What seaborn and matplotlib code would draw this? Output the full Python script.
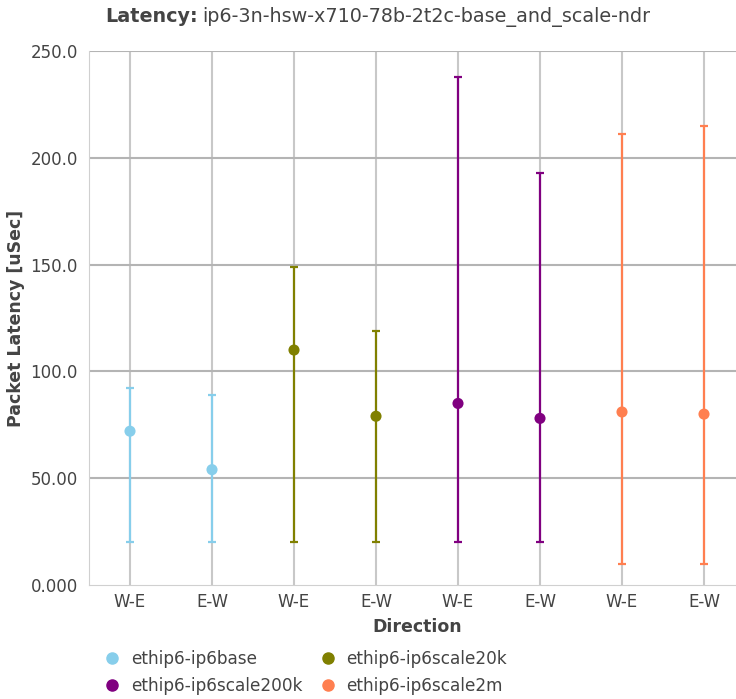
import pandas as pd
import numpy as np
import matplotlib
matplotlib.use("Agg")
import matplotlib.pyplot as plt
import seaborn as sns

# data
tests = ["ethip6-ip6base", "ethip6-ip6base",
         "ethip6-ip6scale20k", "ethip6-ip6scale20k",
         "ethip6-ip6scale200k", "ethip6-ip6scale200k",
         "ethip6-ip6scale2m", "ethip6-ip6scale2m"]
directions = ["W-E", "E-W", "W-E", "E-W", "W-E", "E-W", "W-E", "E-W"]
lat_avg = [72, 54, 110, 79, 85, 78, 81, 80]
lat_max = [92, 89, 149, 119, 238, 193, 211, 215]
lat_min = [20, 20, 20, 20, 20, 20, 10, 10]

series = ["ethip6-ip6base", "ethip6-ip6scale20k", "ethip6-ip6scale200k", "ethip6-ip6scale2m"]
colors = ["#87ceeb", "#808000", "#800080", "#ff7f50"]
palette = dict(zip(series, colors))

df = pd.DataFrame({
    "test": tests,
    "direction": directions,
    "avg": lat_avg,
    "max": lat_max,
    "min": lat_min,
})
df["pos"] = np.arange(len(df))

sns.set_style("white")
plt.rcParams["font.family"] = ["DejaVu Sans"]

fig = plt.figure(figsize=(7.36, 6.99), dpi=100)
ax = fig.add_axes([89 / 736, 114 / 699, 656 / 736, 534 / 699])

# error bars
for _, r in df.iterrows():
    ax.errorbar(r["pos"], r["avg"],
                yerr=[[r["avg"] - r["min"]], [r["max"] - r["avg"]]],
                fmt="none", ecolor=palette[r["test"]], elinewidth=1.6,
                capsize=3, capthick=1.6, zorder=3)

sns.scatterplot(data=df, x="pos", y="avg", hue="test", hue_order=series,
                palette=palette, s=64, edgecolor="none", ax=ax, zorder=4,
                legend=False)

ax.set_xlim(-0.5, 7.5)
ax.set_ylim(0, 250)
ax.set_xticks(df["pos"])
ax.set_xticklabels(df["direction"])
ax.set_yticks([0, 50, 100, 150, 200, 250])
ax.set_yticklabels(["0.000", "50.00", "100.0", "150.0", "200.0", "250.0"])
ax.tick_params(axis="both", labelsize=12, colors="#444444", length=5, width=1)
ax.tick_params(axis="x", length=0, pad=6)
ax.tick_params(axis="y", color="#bbbbbb", pad=3)

for x in df["pos"]:
    ax.axvline(x, color="#c8c8c8", lw=1.5, zorder=0)
for y in [50, 100, 150, 200, 250]:
    ax.axhline(y, color="#b4b4b4", lw=1.5, zorder=1)

for s in ["top", "right"]:
    ax.spines[s].set_visible(False)
ax.spines["left"].set_color("#d0d0d0")
ax.spines["bottom"].set_color("#d0d0d0")

ax.set_xlabel("Direction", fontsize=12.5, fontweight="bold", color="#444444", labelpad=5)
ax.set_ylabel("Packet Latency [uSec]", fontsize=12.5, fontweight="bold", color="#444444", labelpad=4)

# title: bold prefix then normal text right after it
t1 = fig.text(105 / 736, 1 - 17 / 699, "Latency:", fontsize=13.8, fontweight="bold", color="#444444",
              ha="left", va="center")
fig.canvas.draw()
bb = t1.get_window_extent()
fig.text((bb.x1 + 5) / 736, 1 - 17 / 699, "ip6-3n-hsw-x710-78b-2t2c-base_and_scale-ndr", fontsize=13.8,
         color="#444444", ha="left", va="center")

# legend, row-wise order like the reference
order = [0, 2, 1, 3]
handles = [plt.Line2D([], [], marker="o", ls="none", color=colors[i], markersize=8) for i in order]
labels = [series[i] for i in order]
fig.legend(handles, labels, loc="upper left", bbox_to_anchor=(0.118, 0.083 + 6 / 699), ncol=2,
           frameon=False, fontsize=12.2, labelcolor="#444444", handletextpad=0.5,
           columnspacing=0.9, labelspacing=0.5, handlelength=1.2)

fig.savefig("out.png", dpi=100)
